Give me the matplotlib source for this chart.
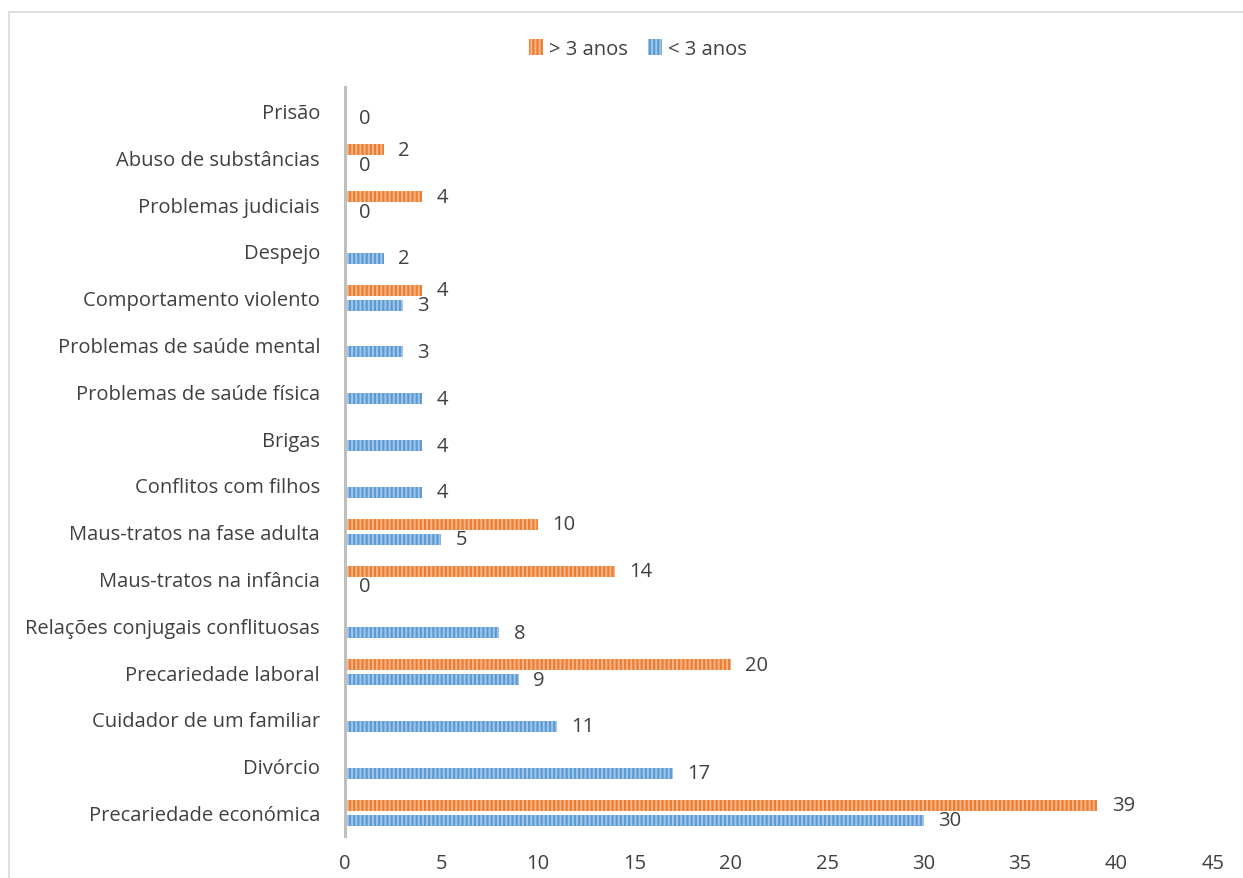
import numpy as np
import matplotlib
matplotlib.use('Agg')
import matplotlib.pyplot as plt
from matplotlib.patches import Rectangle, Patch

# categories from bottom to top
categories = ['Precariedade económica', 'Divórcio', 'Cuidador de um familiar',
              'Precariedade laboral', 'Relações conjugais conflituosas',
              'Maus-tratos na infância', 'Maus-tratos na fase adulta',
              'Conflitos com filhos', 'Brigas', 'Problemas de saúde física',
              'Problemas de saúde mental', 'Comportamento violento', 'Despejo',
              'Problemas judiciais', 'Abuso de substâncias', 'Prisão']

# None = no value for that series
mais_3 = [39, None, None, 20, None, 14, 10, None, None, None, None, 4, None, 4, 2, None]
menos_3 = [30, 17, 11, 9, 8, 0, 5, 4, 4, 4, 3, 3, 2, 0, 0, 0]

x_ticks = [0, 5, 10, 15, 20, 25, 30, 35, 40, 45]

plt.rcParams['font.family'] = ['Open Sans', 'DejaVu Sans']
plt.rcParams['hatch.linewidth'] = 1.4
txt_color = '#404040'
fs = 14.5

fig = plt.figure(figsize=(12.43, 8.79), dpi=100)
ax = fig.add_axes([345 / 1243, 1 - 837 / 879, (1213 - 345) / 1243, (837 - 88) / 879])

# outer chart border
fig.patches.append(Rectangle((9 / 1243, -0.1), 1.2, 0.1 + 1 - 12.5 / 879, transform=fig.transFigure,
                             fill=False, edgecolor='#D9D9D9', linewidth=1.2))

y = np.arange(len(categories))
h = 0.235
off = 0.16

for i, v in enumerate(mais_3):
    if v is None:
        continue
    ax.barh(y[i] + off, v, height=h, color='#ED7D31', edgecolor='#F6B58A', linewidth=0, hatch='||||')
    ax.text(v + 0.75, y[i] + off, str(v), va='center', ha='left', fontsize=fs, color=txt_color)

for i, v in enumerate(menos_3):
    if v is None:
        continue
    ax.barh(y[i] - off, v, height=h, color='#5B9BD5', edgecolor='#A3C6E8', linewidth=0, hatch='||||')
    ax.text(v + 0.75, y[i] - off, str(v), va='center', ha='left', fontsize=fs, color=txt_color)

ax.set_xlim(0, 45)
ax.set_ylim(-0.5, 15.5)
ax.set_xticks(x_ticks)
ax.set_yticks(y)
ax.set_yticklabels(categories)
ax.tick_params(axis='x', length=0, pad=12, labelsize=fs, labelcolor=txt_color)
ax.tick_params(axis='y', length=0, pad=18, labelsize=fs, labelcolor=txt_color)
for s in ['top', 'right', 'bottom']:
    ax.spines[s].set_visible(False)
ax.spines['left'].set_color('#BFBFBF')
ax.spines['left'].set_linewidth(2.2)

handles = [Patch(facecolor='#ED7D31', edgecolor='#F6B58A', linewidth=0, hatch='||||', label='> 3 anos'),
           Patch(facecolor='#5B9BD5', edgecolor='#A3C6E8', linewidth=0, hatch='||||', label='< 3 anos')]
leg = fig.legend(handles=handles, loc='center', bbox_to_anchor=(638 / 1243, 1 - 50 / 879), ncol=2,
                 frameon=False, fontsize=fs, handlelength=0.7, handleheight=0.8, handletextpad=0.3,
                 columnspacing=1.0)
for t in leg.get_texts():
    t.set_color(txt_color)

fig.savefig('out.png', dpi=100)
